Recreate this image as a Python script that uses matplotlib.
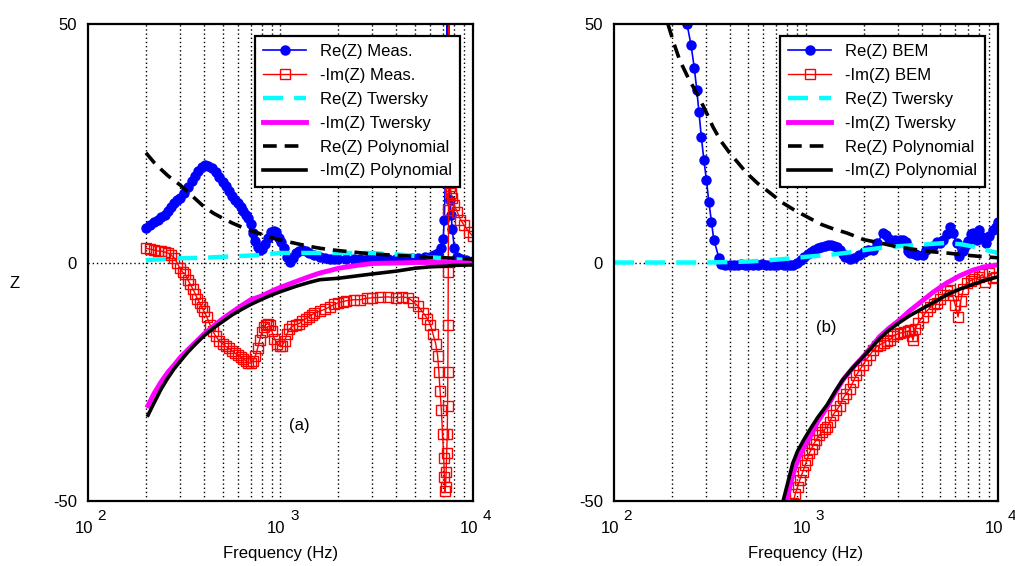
"""Surface impedance: measurement / BEM vs Twersky and polynomial fits."""

import matplotlib
matplotlib.use('Agg')
import matplotlib.pyplot as plt

plt.rcParams['font.family'] = ['Liberation Sans', 'DejaVu Sans']

# ---- panel (a): measurement ----
freqReMeas = [200, 210, 220, 230, 240, 250, 260, 270, 280, 290, 300, 315,
              330, 345, 360, 375, 390, 405, 420, 440, 460, 480, 500, 520,
              540, 560, 580, 600, 620, 640, 660, 680, 700, 720, 740, 760,
              780, 800, 830, 860, 890, 920, 950, 980, 1010, 1040, 1080,
              1120, 1160, 1200, 1250, 1300, 1350, 1400, 1500, 1600, 1700,
              1800, 1900, 2000, 2200, 2400, 2600, 2800, 3000, 3300, 3600,
              4000, 4400, 4800, 5200, 5600, 6000, 6300, 6600, 6800, 7000,
              7100, 7200, 7300, 7350, 7400, 7450, 7500, 7600, 7700, 7800,
              8000, 8300, 8700, 9200, 10000]
reMeas = [7.2, 7.8, 8.4, 9.0, 9.5, 10.0, 10.8, 11.7, 12.4, 13.0, 13.6, 14.5,
          15.8, 17.0, 18.2, 19.2, 20.0, 20.4, 20.3, 19.8, 19.0, 18.0, 16.8,
          16.0, 15.0, 14.0, 13.0, 12.4, 11.6, 10.8, 10.0, 9.4, 8.0, 6.2, 4.6,
          3.2, 2.6, 2.8, 3.8, 5.2, 6.3, 6.7, 6.4, 5.2, 4.2, 3.0, 1.2, 0.2, 1.0,
          2.0, 2.5, 2.6, 2.4, 2.0, 1.6, 1.2, 1.0, 0.8, 0.8, 0.7, 0.7, 0.7,
          0.7, 0.7, 0.7, 0.7, 0.8, 0.8, 0.9, 0.9, 1.0, 1.1, 1.2, 1.5, 2.0,
          3.0, 5.0, 9.0, 20.0, 38.0, 60.0, 45.0, 28.0, 18.0, 13.0, 10.0, 7.0,
          3.0, 1.2, 0.8, 0.6, 0.4]

freqImMeas = [200, 210, 220, 230, 240, 250, 260, 270, 280, 290, 300, 310,
              320, 330, 340, 350, 360, 370, 380, 390, 400, 415, 430, 445,
              460, 480, 500, 520, 540, 560, 580, 600, 620, 640, 660, 680,
              700, 720, 740, 760, 780, 800, 820, 840, 860, 880, 900, 930,
              960, 990, 1020, 1050, 1080, 1110, 1150, 1200, 1250, 1300, 1350,
              1400, 1450, 1500, 1600, 1700, 1800, 1900, 2000, 2100, 2200,
              2400, 2600, 2800, 3000, 3300, 3600, 4000, 4300, 4600, 4900,
              5200, 5500, 5800, 6000, 6200, 6400, 6550, 6650, 6750, 6850,
              6950, 7050, 7100, 7150, 7200, 7250, 7300, 7350, 7380, 7400,
              7420, 7440, 7460, 7480, 7500, 7550, 7600, 7700, 7800, 8000,
              8300, 8600, 9000, 9500, 10000]
imMeas = [3.0, 2.8, 2.6, 2.4, 2.4, 2.2, 2.0, 1.6, 1.0, 0.0, -1.2, -2.0, -2.4,
          -3.6, -4.6, -5.5, -6.5, -7.6, -8.4, -9.4, -10.2, -11.5, -13.0,
          -14.4, -15.4, -16.4, -17.0, -17.6, -18.0, -18.5, -19.0, -19.4,
          -19.8, -20.2, -20.6, -21.0, -21.1, -20.6, -19.6, -18.0, -16.2,
          -14.6, -13.5, -13.0, -12.8, -13.2, -14.3, -16.0, -17.0, -17.6,
          -17.4, -16.5, -15.0, -14.0, -13.4, -13.0, -12.8, -12.2, -11.8,
          -11.4, -11.0, -10.6, -10.2, -9.8, -9.3, -8.8, -8.4, -8.2, -8.0,
          -7.8, -7.8, -7.5, -7.4, -7.3, -7.2, -7.4, -7.2, -7.4, -8.2, -9.2,
          -10.5, -11.8, -13.0, -15.0, -17.0, -19.5, -23.0, -27.0, -31.0,
          -36.0, -41.0, -45.0, -48.0, -47.0, -44.0, -40.0, -36.0, -30.0,
          -23.0, -13.0, -2.0, 11.0, 35.0, 60.0, 20.0, 16.0, 14.5, 13.5, 12.0,
          10.5, 9.0, 7.8, 6.5, 5.5]

freqTwA = [200, 300, 400, 500, 650, 800, 1000, 1500, 2000, 3000, 4000,
           5000, 6000, 7000, 8000, 10000]
reTwA = [0.5, 0.9, 1.0, 1.2, 1.4, 1.6, 2.0, 2.0, 2.0, 2.0, 1.7, 1.4, 1.1,
         0.9, 0.7, 0.4]
freqImTwA = [205, 220, 240, 260, 280, 300, 330, 360, 400, 450, 500, 560, 630,
             700, 800, 900, 1000, 1200, 1400, 1600, 1800, 2000, 2500, 3000,
             4000, 5000, 7000, 10000]
imTwA = [-30.0, -27.5, -25.0, -23.0, -21.5, -20.0, -18.3, -16.8, -15.0,
         -13.3, -11.8, -10.4, -9.0, -7.8, -7.0, -6.0, -5.2, -4.0, -3.0, -2.2,
         -1.7, -1.2, -0.6, -0.2, -0.1, 0.0, 0.0, 0.0]

freqPolyA = [200, 220, 240, 260, 280, 300, 330, 360, 400, 450, 500, 560, 630,
             700, 800, 900, 1000, 1200, 1400, 1600, 1800, 2000, 2500, 3000,
             4000, 5000, 6000, 7000, 8000, 10000]
rePolyA = [23.0, 21.0, 19.5, 18.2, 17.2, 16.3, 14.8, 13.4, 11.7, 10.3, 9.3,
           8.3, 7.4, 6.7, 5.9, 5.2, 4.7, 4.0, 3.4, 3.0, 2.7, 2.5, 2.1, 1.8,
           1.5, 1.3, 1.1, 1.0, 0.9, 0.7]
freqImPolyA = [205, 220, 240, 260, 280, 300, 330, 360, 400, 450, 500, 560,
               630, 700, 800, 900, 1000, 1200, 1400, 1600, 2000, 2500, 3000,
               4000, 5000, 6000, 7000, 8000, 10000]
imPolyA = [-32.0, -29.5, -26.5, -24.2, -22.3, -20.8, -18.8, -17.2, -15.4,
           -13.7, -12.4, -11.0, -9.8, -8.8, -7.7, -6.8, -6.1, -5.0, -4.2,
           -3.6, -3.3, -2.8, -2.4, -1.8, -1.2, -0.9, -0.8, -0.6, -0.5]

# ---- panel (b): BEM ----
freqReBem = [240, 252, 262, 270, 277, 285, 294, 303, 312, 322, 331, 352, 360,
             380, 400, 420, 440, 460, 480, 500, 530, 560, 590, 620, 650, 680,
             710, 740, 770, 800, 830, 860, 900, 940, 980, 1020, 1060, 1100,
             1150, 1200, 1250, 1300, 1350, 1400, 1450, 1500, 1550, 1600, 1700,
             1770, 1900, 2000, 2100, 2240, 2350, 2520, 2600, 2700, 2800, 2900,
             3000, 3100, 3200, 3300, 3400, 3500, 3610, 3700, 3800, 4050, 4200,
             4400, 4600, 4800, 4970, 5200, 5400, 5600, 5800, 6100, 6300, 6600,
             6800, 7000, 7200, 7400, 7600, 7800, 8000, 8300, 8700, 9000, 9400,
             9800, 10000]
reBem = [50.0, 45.6, 40.8, 36.2, 31.6, 26.4, 21.5, 17.3, 12.7, 8.5, 4.8, 1.0,
         -0.3, -0.5, -0.5, -0.6, -0.5, -0.4, -0.5, -0.6, -0.5, -0.5, -0.4,
         -0.5, -0.6, -0.5, -0.5, -0.4, -0.5, -0.5, -0.6, -0.5, -0.2, 0.5, 1.2,
         1.8, 2.3, 2.7, 3.0, 3.3, 3.5, 3.6, 3.6, 3.5, 3.2, 2.6, 1.8, 1.2, 0.8,
         1.0, 1.6, 2.2, 2.6, 2.6, 4.0, 6.2, 5.8, 5.0, 4.6, 4.8, 4.6, 4.8, 4.8,
         4.2, 2.5, 2.0, 2.0, 1.8, 1.5, 1.5, 2.6, 3.2, 3.4, 4.4, 4.1, 4.8, 6.0,
         7.5, 6.2, 4.1, 1.3, 2.4, 3.6, 4.6, 6.0, 6.2, 5.0, 4.8, 6.8, 5.4, 4.1,
         5.6, 6.8, 7.5, 8.5]

freqImBem = [855, 880, 905, 930, 960, 990, 1010, 1040, 1070, 1100, 1130, 1170,
             1210, 1250, 1290, 1330, 1380, 1440, 1500, 1560, 1620, 1690, 1760,
             1830, 1900, 1980, 2060, 2150, 2240, 2340, 2440, 2540, 2640, 2730,
             2850, 2980, 3100, 3250, 3380, 3480, 3560, 3610, 3700, 3850, 4050,
             4250, 4450, 4650, 4800, 5000, 5200, 5400, 5600, 5800, 6000, 6200,
             6400, 6600, 6900, 7200, 7500, 8000, 8300, 8600, 9000, 9400, 9800]
imBem = [-50.4, -48.5, -47.0, -45.5, -44.0, -42.5, -41.5, -40.0, -39.0, -38.0,
         -37.2, -36.2, -35.6, -35.0, -34.5, -33.4, -32.0, -31.0, -30.0, -28.5,
         -27.5, -26.5, -25.0, -23.6, -22.6, -21.5, -20.4, -19.4, -18.4, -17.6,
         -17.2, -16.8, -16.4, -16.3, -15.4, -15.0, -14.8, -14.6, -14.4, -14.2,
         -15.5, -16.3, -14.0, -12.6, -11.4, -10.2, -9.4, -8.8, -8.5, -7.6,
         -6.8, -6.0, -5.8, -6.8, -9.0, -11.4, -8.0, -5.6, -4.3, -3.8, -3.4,
         -3.1, -2.5, -4.0, -2.2, -3.2, -3.0]

freqTwB = [100, 200, 300, 400, 500, 600, 700, 800, 900, 1000, 1330, 1600,
           2000, 2500, 3000, 3600, 4500, 5400, 6500, 7500, 8700, 10000]
reTwB = [0.0, 0.0, 0.0, 0.1, 0.2, 0.4, 0.6, 0.8, 1.0, 1.2, 1.6, 2.0, 2.6, 3.1,
         3.4, 3.6, 3.9, 4.1, 3.8, 3.3, 2.6, 2.0]
freqImTwB = [790, 855, 905, 980, 1050, 1150, 1290, 1420, 1560, 1760, 1980,
             2200, 2410, 2700, 3060, 3450, 3900, 4600, 5400, 6300, 7400, 8500,
             10000]
imTwB = [-50.0, -44.5, -41.5, -38.5, -36.6, -33.4, -30.3, -27.3, -24.6, -22.0,
         -19.8, -17.6, -15.6, -13.8, -12.1, -10.2, -8.5, -6.2, -4.3, -2.8,
         -1.6, -0.9, -0.5]

freqPolyB = [191, 205, 220, 245, 270, 300, 328, 360, 400, 445, 490, 560, 650,
             750, 870, 1010, 1200, 1400, 1630, 2000, 2500, 2970, 3600, 4400,
             5400, 7000, 8500, 10000]
rePolyB = [50.0, 46.0, 42.4, 38.5, 35.5, 31.8, 28.4, 25.5, 23.0, 20.8, 18.8,
           16.6, 14.6, 12.6, 11.0, 9.6, 8.0, 7.0, 6.2, 4.8, 4.0, 3.3, 2.8, 2.3,
           2.0, 1.5, 1.2, 1.0]
freqImPolyB = [760, 800, 855, 905, 980, 1050, 1150, 1290, 1420, 1560, 1760,
               1980, 2200, 2410, 2700, 3060, 3450, 3900, 4600, 5400, 6300,
               7400, 8500, 10000]
imPolyB = [-50.0, -46.5, -42.0, -39.5, -37.0, -35.0, -32.5, -29.8, -27.0,
           -24.5, -22.0, -19.8, -17.8, -16.0, -14.2, -12.6, -11.2, -10.0,
           -8.4, -6.8, -5.6, -4.6, -3.8, -3.0]

gridFreqs = [200, 300, 400, 500, 600, 700, 800, 900, 1000,
             2000, 3000, 4000, 5000, 6000, 7000, 8000, 9000]
xTicks = [100, 1000, 10000]
xExponents = ['2', '3', '4']
dotted = (0, (1, 2))


def setupAxes(ax):
    """Log axis, dotted grid, tick labels written as 10 and exponent."""
    ax.set_xscale('log')
    ax.set_xlim(100, 10000)
    ax.set_ylim(-50, 50)
    for f in gridFreqs:
        ax.axvline(f, color='k', lw=1, ls=dotted, zorder=0)
    ax.axhline(0, color='k', lw=1, ls=dotted, zorder=0)
    ax.set_xticks(xTicks)
    ax.set_xticklabels(['', '', ''])
    ax.set_xticks([], minor=True)
    ax.set_yticks([-50, 0, 50])
    ax.set_yticklabels(['-50', '0', '50'])
    ax.tick_params(length=0, labelsize=12, pad=8)
    for sp in ax.spines.values():
        sp.set_linewidth(1.6)
    trans = ax.get_xaxis_transform()
    for f, e in zip(xTicks, xExponents):
        ax.text(f * 1.06, -0.058, '10', transform=trans, fontsize=12,
                ha='right', va='center')
        ax.text(f * 1.12, -0.031, e, transform=trans, fontsize=11,
                ha='left', va='center')
    ax.text(0.5, -0.109, 'Frequency (Hz)', transform=ax.transAxes,
            fontsize=12, ha='center', va='center')


def drawPanel(ax, fRe, re, fIm, im, fTwRe, twRe, fTwIm, twIm,
              fPolyRe, polyRe, fPolyIm, polyIm, name):
    """Plot the six series of a panel."""
    ax.plot(fRe, re, color='b', lw=1.2, marker='o', ms=6.5,
            mec='b', mfc='b', label='Re(Z) ' + name)
    ax.plot(fIm, im, color='r', lw=1.0, marker='s', ms=6.5,
            mec='r', mfc='none', mew=1.0, label='-Im(Z) ' + name)
    ax.plot(fTwRe, twRe, color='#00ffff', lw=3.2, ls=(0, (4.5, 2.5)),
            label='Re(Z) Twersky')
    ax.plot(fTwIm, twIm, color='#ff00ff', lw=3.5, label='-Im(Z) Twersky')
    ax.plot(fPolyRe, polyRe, color='k', lw=2.6, ls=(0, (3.8, 2.2)),
            label='Re(Z) Polynomial')
    ax.plot(fPolyIm, polyIm, color='k', lw=2.6, label='-Im(Z) Polynomial')
    leg = ax.legend(loc='upper right', bbox_to_anchor=(0.966, 0.975),
                    borderaxespad=0, fontsize=12, handlelength=2.6,
                    handletextpad=0.8, labelspacing=0.53, borderpad=0.5,
                    fancybox=False, framealpha=1, edgecolor='k')
    leg.get_frame().set_linewidth(1.6)


fig = plt.figure(figsize=(10.15, 5.66), dpi=100)
axA = fig.add_axes([0.0867, 0.1148, 0.3793, 0.8428])
axB = fig.add_axes([0.6049, 0.1148, 0.3783, 0.8428])

setupAxes(axA)
setupAxes(axB)
drawPanel(axA, freqReMeas, reMeas, freqImMeas, imMeas, freqTwA, reTwA,
          freqImTwA, imTwA, freqPolyA, rePolyA, freqImPolyA, imPolyA, 'Meas.')
drawPanel(axB, freqReBem, reBem, freqImBem, imBem, freqTwB, reTwB,
          freqImTwB, imTwB, freqPolyB, rePolyB, freqImPolyB, imPolyB, 'BEM')

axA.text(0.55, 0.159, '(a)', transform=axA.transAxes, fontsize=12,
         ha='center', va='center')
axB.text(0.552, 0.363, '(b)', transform=axB.transAxes, fontsize=12,
         ha='center', va='center')
fig.text(0.0148, 0.5, 'Z', fontsize=12, ha='center', va='center')

fig.savefig('out.png', dpi=100)
